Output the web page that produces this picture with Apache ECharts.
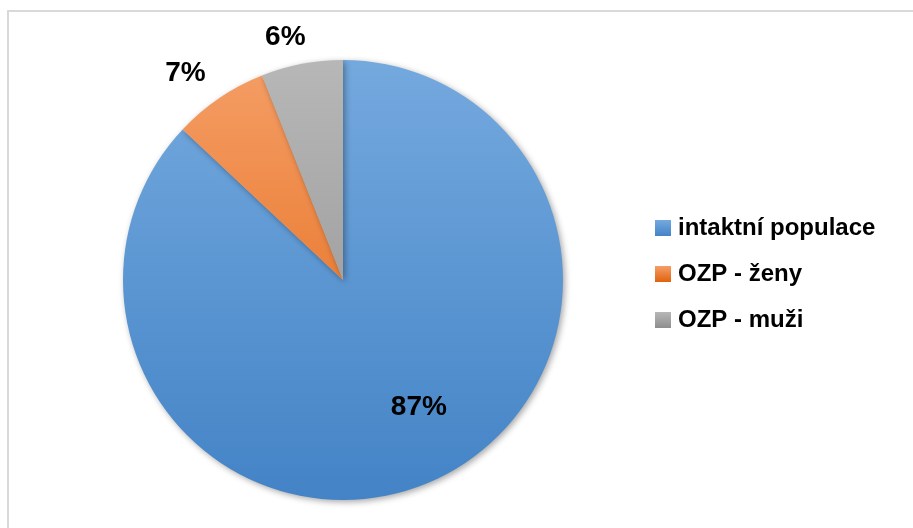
<!DOCTYPE html>
<html>
<head>
<meta charset="utf-8">
<script src="https://cdn.jsdelivr.net/npm/echarts@6/dist/echarts.min.js"></script>
<style>
  html, body { margin: 0; padding: 0; background: #fff; }
  #chart { width: 913px; height: 528px; }
</style>
</head>
<body>
<div id="chart"></div>
<script>
// chart data
const categories = ['intaktní populace', 'OZP - ženy', 'OZP - muži']
const values = [87, 7, 6]
const labels = ['87%', '7%', '6%']

// top / bottom colours of each slice's shading
const topColors = ['#74a9de', '#f59e66', '#b7b7b7']
const bottomColors = ['#4383c6', '#e1620d', '#8e8e8e']

const cx = 343
const cy = 280
const radius = 220

// nudges for the labels so they sit like the original
const labelOffsets = [[31, 24], [-2, -15], [11, -15]]

function sliceGradient(i) {
  return {
    type: 'linear',
    x: 0, y: cy - radius, x2: 0, y2: cy + radius,
    global: true,
    colorStops: [
      { offset: 0, color: topColors[i] },
      { offset: 1, color: bottomColors[i] }
    ]
  }
}

function iconGradient(i) {
  return {
    type: 'linear',
    x: 0, y: 0, x2: 0, y2: 1,
    colorStops: [
      { offset: 0, color: topColors[i] },
      { offset: 1, color: bottomColors[i] }
    ]
  }
}

const labelStyle = {
  fontFamily: 'Liberation Sans, Arial, sans-serif',
  fontWeight: 'bold',
  fontSize: 28,
  color: '#000'
}

const seriesData = categories.map((name, i) => {
  const item = {
    name: name,
    value: values[i],
    itemStyle: { color: sliceGradient(i) },
    label: Object.assign({ formatter: labels[i], offset: labelOffsets[i] }, labelStyle)
  }
  item.label.position = i === 0 ? 'inside' : 'outside'
  return item
})

const chart = echarts.init(document.getElementById('chart'))
chart.setOption({
  backgroundColor: '#fff',
  animation: false,
  graphic: [
    {
      type: 'polyline',
      shape: { points: [[8, 528], [8, 11], [913, 11]] },
      style: { stroke: '#d9d9d9', lineWidth: 2, fill: null }
    }
  ],
  legend: {
    orient: 'vertical',
    left: 650,
    top: 211,
    itemWidth: 16,
    itemHeight: 16,
    itemGap: 22,
    icon: 'rect',
    textStyle: {
      fontFamily: 'Liberation Sans, Arial, sans-serif',
      fontWeight: 'bold',
      fontSize: 24,
      color: '#000',
      padding: [0, 0, 0, 2]
    },
    data: categories.map((name, i) => ({
      name: name,
      itemStyle: { color: iconGradient(i) }
    }))
  },
  series: [
    {
      type: 'pie',
      center: [cx, cy],
      radius: radius,
      startAngle: 90,
      clockwise: true,
      data: seriesData,
      itemStyle: {
        borderWidth: 0,
        shadowBlur: 6,
        shadowOffsetX: 2,
        shadowOffsetY: 2,
        shadowColor: 'rgba(0, 0, 0, 0.35)'
      },
      labelLine: { show: false, length: 12, length2: 0 },
      emphasis: { disabled: true }
    }
  ]
})
</script>
</body>
</html>
